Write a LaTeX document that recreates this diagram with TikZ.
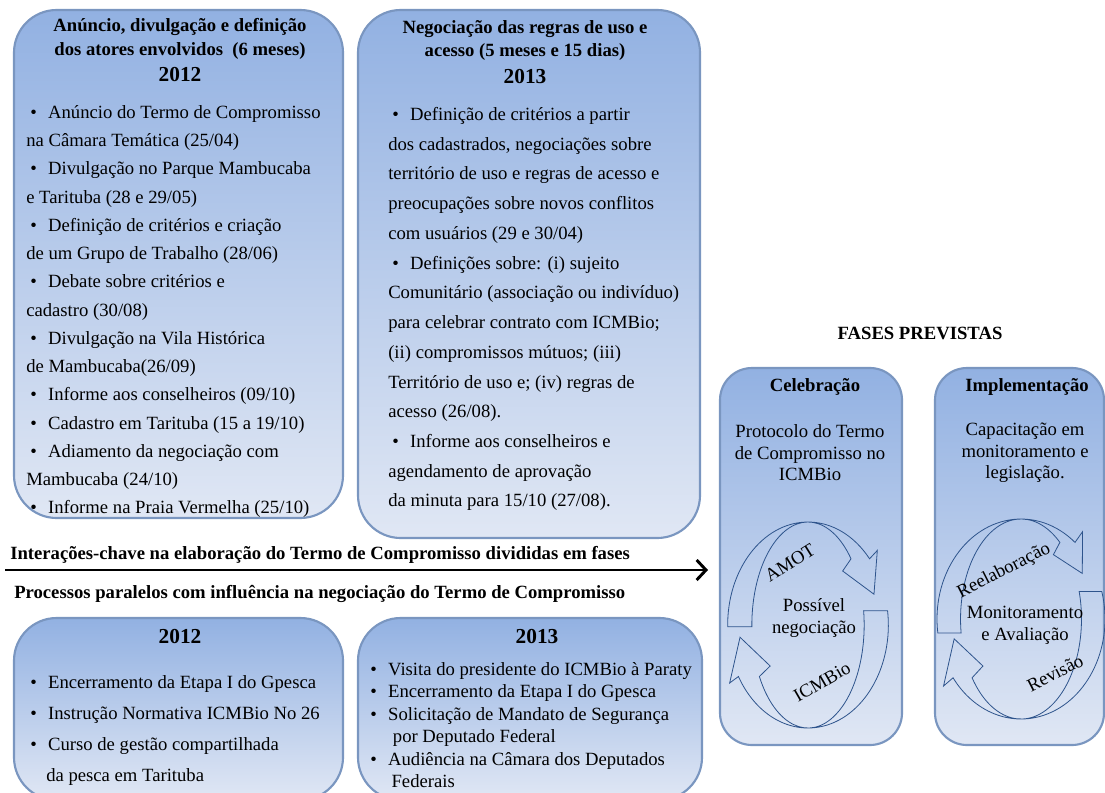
\documentclass[tikz,border=0pt]{standalone}
\usepackage{fontspec}
\setmainfont{Liberation Serif}
\usetikzlibrary{arrows.meta, positioning}
\definecolor{boxtop}{RGB}{146,177,226}
\definecolor{boxbottom}{RGB}{224,231,244}
\definecolor{boxline}{RGB}{122,150,192}
\definecolor{cycleline}{RGB}{46,84,140}
\newcommand{\itembullet}{\hspace*{3pt}\textbullet\hspace{8.5pt}}
\tikzset{
  phasebox/.style={draw=boxline, line width=1.6pt, rounded corners=32pt,
    top color=boxtop, bottom color=boxbottom},
  smallbox/.style={phasebox, rounded corners=24pt},
  boxtitle/.style={font=\fontsize{14}{17.5}\selectfont\bfseries, align=center, inner sep=0pt},
  bodytext/.style={font=\fontsize{14}{21.2}\selectfont, align=left, inner sep=0pt, anchor=north west},
  axislabel/.style={font=\fontsize{14}{17}\selectfont\bfseries, inner sep=0pt, anchor=base west},
  cyclearrow/.style={draw=cycleline, line width=0.6pt},
  cycletext/.style={font=\fontsize{14}{16.5}\selectfont, inner sep=0pt, align=center},
}
\begin{document}
\begin{tikzpicture}[x=0.75pt, y=-0.75pt]
  \useasboundingbox (0,0) rectangle (1105,792);

  % fases de elaboracao
  \node[phasebox, minimum width=246.75pt, minimum height=381pt] (boxA) at (178.5,264) {};
  \node[phasebox, minimum width=256.5pt, minimum height=396pt] (boxB) at (529,274) {};
  \node[boxtitle, anchor=north] (titleA) at (180,18.5)
    {Anúncio, divulgação e definição\\dos atores envolvidos \ (6 meses)\\[2.5pt]{\fontsize{16}{18}\selectfont 2012}};
  \node[boxtitle, anchor=north] (titleB) at (525,20)
    {Negociação das regras de uso e\\acesso (5 meses e 15 dias)\\[2.5pt]{\fontsize{16}{18}\selectfont 2013}};

  \node[bodytext] (listA) at (26,105) {%
    \itembullet Anúncio do Termo de Compromisso\\
    na Câmara Temática (25/04)\\
    \itembullet Divulgação no Parque Mambucaba\\
    e Tarituba (28 e 29/05)\\
    \itembullet Definição de critérios e criação\\
    de um Grupo de Trabalho (28/06)\\
    \itembullet Debate sobre critérios e\\
    cadastro (30/08)\\
    \itembullet Divulgação na Vila Histórica\\
    de Mambucaba(26/09)\\
    \itembullet Informe aos conselheiros (09/10)\\
    \itembullet Cadastro em Tarituba (15 a 19/10)\\
    \itembullet Adiamento da negociação com\\
    Mambucaba (24/10)\\
    \itembullet Informe na Praia Vermelha (25/10)};

  \node[bodytext, font=\fontsize{14}{22.3}\selectfont] (listB) at (388,107) {%
    \itembullet Definição de critérios a partir\\
    dos cadastrados, negociações sobre\\
    território de uso e regras de acesso e\\
    preocupações sobre novos conflitos\\
    com usuários (29 e 30/04)\\
    \itembullet Definições sobre: (i) sujeito\\
    Comunitário (associação ou indivíduo)\\
    para celebrar contrato com ICMBio;\\
    (ii) compromissos mútuos; (iii)\\
    Território de uso e; (iv) regras de\\
    acesso (26/08).\\
    \itembullet Informe aos conselheiros e\\
    agendamento de aprovação\\
    da minuta para 15/10 (27/08).};

  % eixo do tempo
  \coordinate (axisstart) at (5,570);
  \coordinate (axisend) at (708,570);
  \draw[line width=2.2pt, -{Straight Barb[length=7pt, width=15pt]}] (axisstart) -- (axisend);
  \node[axislabel] (keylabel) at (10,559)
    {Interações-chave na elaboração do Termo de Compromisso divididas em fases};
  \node[axislabel] (parallellabel) at (14,598)
    {Processos paralelos com influência na negociação do Termo de Compromisso};

  % processos paralelos
  \node[phasebox, minimum width=246.75pt, minimum height=136.5pt] (boxC) at (178.5,709) {};
  \node[phasebox, minimum width=258pt, minimum height=136.5pt] (boxD) at (530,709) {};
  \node[boxtitle, font=\fontsize{16}{18}\selectfont\bfseries] (titleC) at (180,637) {2012};
  \node[boxtitle, font=\fontsize{16}{18}\selectfont\bfseries] (titleD) at (537,637) {2013};

  \node[bodytext, font=\fontsize{14}{23.2}\selectfont] (listC) at (26,675) {%
    \itembullet Encerramento da Etapa I do Gpesca\\
    \itembullet Instrução Normativa ICMBio No 26\\
    \itembullet Curso de gestão compartilhada\\
    \hspace*{15pt}da pesca em Tarituba};
  \node[bodytext, font=\fontsize{14}{16.9}\selectfont] (listD) at (366,662) {%
    \itembullet Visita do presidente do ICMBio à Paraty\\
    \itembullet Encerramento da Etapa I do Gpesca\\
    \itembullet Solicitação de Mandato de Segurança\\
    \hspace*{20pt}por Deputado Federal\\
    \itembullet Audiência na Câmara dos Deputados\\
    \hspace*{19pt}Federais};

  % fases previstas
  \node[boxtitle] (forecast) at (920,333) {FASES PREVISTAS};
  \node[smallbox, minimum width=136.5pt, minimum height=282.75pt] (boxE) at (811,556.5) {};
  \node[smallbox, minimum width=126.75pt, minimum height=282.75pt] (boxF) at (1019.5,556.5) {};
  \node[boxtitle] (titleE) at (815,387) {Celebração};
  \node[boxtitle] (titleF) at (1027,387) {Implementação};
  \node[cycletext, font=\fontsize{14}{16.2}\selectfont] (textE) at (810,453)
    {Protocolo do Termo\\de Compromisso no\\ICMBio};
  \node[cycletext, font=\fontsize{14}{16.2}\selectfont] (textF) at (1025,453)
    {Capacitação em\\monitoramento e\\legislação.};

  \begin{scope}[shift={(808,625)}, xscale=0.78, yscale=-1]
    \draw[cyclearrow] (181:103) arc[start angle=181, end angle=40, radius=103]
      -- (40:116) -- (20:90) -- (40:58 and 84) -- (40:72 and 103)
      arc[start angle=40, end angle=181, x radius=72, y radius=103] -- cycle;
    \draw[cyclearrow] (8:103) arc[start angle=8, end angle=-150, radius=103]
      -- (-150:116) -- (-172:88) -- (-150:56 and 82) -- (-150:72 and 103)
      arc[start angle=-150, end angle=8, x radius=72, y radius=103] -- cycle;
  \end{scope}
  \node[cycletext, rotate=32] (amot) at (790,563) {AMOT};
  \node[cycletext] (negotiation) at (814,618) {Possível\\negociação};
  \node[cycletext, rotate=30] (icmbio) at (822,682) {ICMBio};

  \begin{scope}[shift={(1021,619)}, xscale=0.84, yscale=-1]
    \draw[cyclearrow] (188:100) arc[start angle=188, end angle=50, radius=100]
      -- (50:114) -- (32:86) -- (50:60 and 84) -- (50:72 and 100)
      arc[start angle=50, end angle=188, x radius=72, y radius=100] -- cycle;
    \draw[cyclearrow] (16:100) arc[start angle=16, end angle=-144, radius=100]
      -- (-144:114) -- (-166:82) -- (-144:56 and 80) -- (-144:72 and 100)
      arc[start angle=-144, end angle=16, x radius=72, y radius=100] -- cycle;
  \end{scope}
  \node[cycletext, rotate=27] (rework) at (1004,571) {Reelaboração};
  \node[cycletext] (monitoring) at (1025,625) {Monitoramento\\e Avaliação};
  \node[cycletext, rotate=27] (review) at (1055,673) {Revisão};
\end{tikzpicture}
\end{document}
